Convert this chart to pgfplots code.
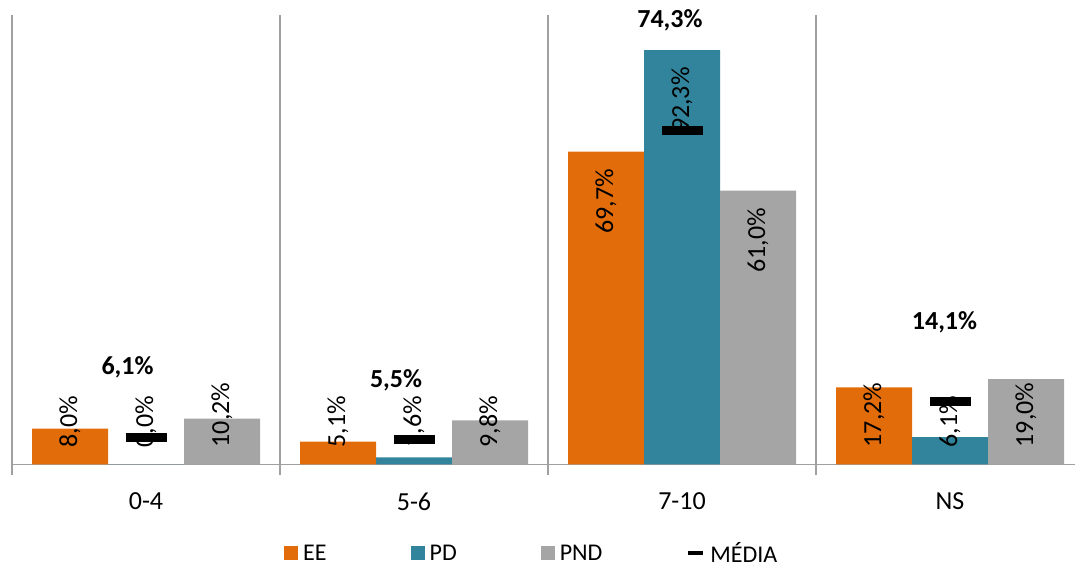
\documentclass[border=0pt]{standalone}
\usepackage{pgfplots}
\pgfplotsset{compat=1.18}
\usepackage{fontspec}
\setmainfont{Carlito}
\definecolor{cEE}{RGB}{227,108,10}
\definecolor{cPD}{RGB}{49,132,155}
\definecolor{cPND}{RGB}{165,165,165}
\definecolor{cgrid}{RGB}{160,160,160}
\begin{document}
\begin{tikzpicture}
\begin{axis}[
  scale only axis,
  width=1063pt, height=449pt,
  xmin=-0.5, xmax=3.4664, ymin=0, ymax=100,
  axis x line=bottom, axis y line=none,
  axis line style={-, cgrid, line width=1.5pt},
  xtick={0,1,2,3}, xticklabels={0-4,5-6,7-10,NS},
  major tick length=0pt,
  minor xtick={-0.5,0.5,1.5,2.5},
  minor tick length=11pt,
  tick align=outside,
  xminorgrids,
  minor grid style={cgrid, line width=1.5pt},
  minor tick style={cgrid, line width=1.5pt},
  xticklabel style={font=\fontsize{26}{30}\selectfont, yshift=-25pt},
  ytick=\empty,
  clip=false,
  legend columns=4,
  legend style={draw=none, fill=none, at={(0.488,-0.198)}, anchor=center,
    font=\fontsize{24}{28}\selectfont,
    nodes={inner xsep=0pt},
    /tikz/every odd column/.append style={column sep=5pt},
    /tikz/every even column/.append style={column sep=84pt}},
]
\addplot[ybar, bar width=76pt, bar shift=-76pt, fill=cEE, draw=none,
  legend image code/.code={\fill[cEE] (0pt,-7pt) rectangle (14pt,7pt);}]
  coordinates {(0,8.0) (1,5.1) (2,69.7) (3,17.2)};
\addlegendentry{EE}
\addplot[ybar, bar width=76pt, bar shift=0pt, fill=cPD, draw=none,
  legend image code/.code={\fill[cPD] (0pt,-7pt) rectangle (14pt,7pt);}]
  coordinates {(0,0.0) (1,1.6) (2,92.3) (3,6.1)};
\addlegendentry{PD}
\addplot[ybar, bar width=76pt, bar shift=76pt, fill=cPND, draw=none,
  legend image code/.code={\fill[cPND] (0pt,-7pt) rectangle (14pt,7pt);}]
  coordinates {(0,10.2) (1,9.8) (2,61.0) (3,19.0)};
\addlegendentry{PND}
% value labels (bottom anchored)
\addplot[forget plot, only marks, mark=*, mark size=0pt, mark options={draw=none,fill=none},
  nodes near coords, point meta=explicit symbolic,
  nodes near coords style={rotate=90, anchor=west, inner sep=0pt, font=\fontsize{26}{30}\selectfont, text=black}]
  coordinates {
    (-0.2836,3.8) [8{,}0\%]
    (0,3.8) [0{,}0\%]
    (0.2836,3.8) [10{,}2\%]
    (0.7164,3.8) [5{,}1\%]
    (1,3.8) [1{,}6\%]
    (1.2836,3.8) [9{,}8\%]
    (2.7164,3.8) [17{,}2\%]
    (3,3.8) [6{,}1\%]
    (3.2836,3.8) [19{,}0\%]
  };
% value labels (top anchored)
\addplot[forget plot, only marks, mark=*, mark size=0pt, mark options={draw=none,fill=none},
  nodes near coords, point meta=explicit symbolic,
  nodes near coords style={rotate=90, anchor=east, inner sep=0pt, font=\fontsize{26}{30}\selectfont, text=black}]
  coordinates {
    (1.7164,65.9) [69{,}7\%]
    (2,88.5) [92{,}3\%]
    (2.2836,57.2) [61{,}0\%]
  };
% media markers
\addplot[only marks, mark=-, mark size=20.5pt, mark options={solid, black, line width=9pt},
  legend image code/.code={\draw[black, line width=4pt] (0pt,0pt) -- (15pt,0pt);}]
  coordinates {(0,6.1) (1,5.5) (2,74.3) (3,14.1)};
\addlegendentry{MÉDIA}
% media labels
\addplot[forget plot, only marks, mark=*, mark size=0pt, mark options={draw=none,fill=none},
  nodes near coords, point meta=explicit symbolic,
  nodes near coords style={anchor=center, inner sep=0pt, font=\bfseries\fontsize{26}{30}\selectfont, text=black}]
  coordinates {
    (-0.069,21.6) [6{,}1\%]
    (0.933,18.7) [5{,}5\%]
    (1.955,99.0) [74{,}3\%]
    (2.9795,31.7) [14{,}1\%]
  };
\coordinate (bl) at (axis cs:-0.5448,-23.63);
\coordinate (tr) at (axis cs:3.4664,103.45);
\end{axis}
\pgfresetboundingbox
\useasboundingbox (bl) rectangle (tr);
\end{tikzpicture}
\end{document}
